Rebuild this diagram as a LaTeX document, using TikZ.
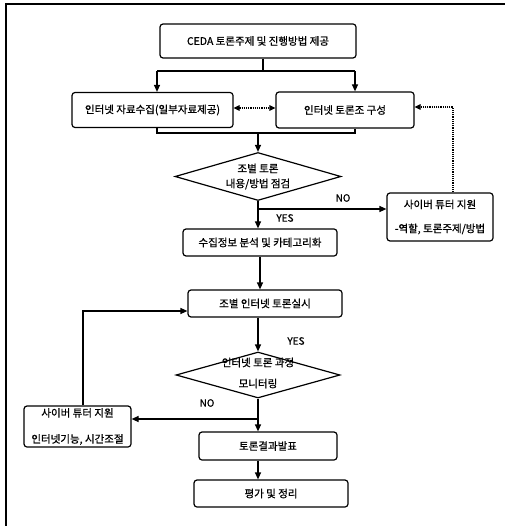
\documentclass[tikz,border=0pt]{standalone}
\usepackage{fontspec}
\setmainfont{Noto Sans CJK KR}[FakeBold=0.8]
\usetikzlibrary{arrows.meta,shapes.geometric}
\begin{document}
\begin{tikzpicture}[x=1pt,y=-1pt,
  font=\fontsize{10.5}{14}\selectfont,
  box/.style={draw,line width=1.2pt,rounded corners=3pt,inner sep=0pt,align=center},
  dia/.style={draw,line width=1.2pt,shape=diamond,inner sep=0pt,aspect=3.4},
  conn/.style={line width=1.2pt},
  arr/.style={conn,-{Triangle[length=7pt,width=6pt]}},
  dots/.style={line width=1.2pt,densely dotted},
  dtip/.style={{Triangle[length=6pt,width=5.5pt]}-{Triangle[length=6pt,width=5.5pt]}},
  lbl/.style={font=\fontsize{10}{12}\selectfont}
]
\useasboundingbox (0,0) rectangle (505,526);
\draw[line width=2pt] (6,526) -- (6,4) -- (505,4);

% nodes
\node[box,minimum width=196pt,minimum height=34pt] (b1) at (258,41) {CEDA 토론주제 및 진행방법 제공};
\node[box,minimum width=161pt,minimum height=35pt] (b2) at (152.5,110) {인터넷 자료수집(일부자료제공)};
\node[box,minimum width=138pt,minimum height=36pt] (b3) at (345,110) {인터넷 토론조 구성};
\node[dia,minimum width=166pt,minimum height=48pt] (d1) at (258,176.5) {};
\node[align=center,font=\fontsize{10.5}{15}\selectfont] (d1t) at (258,176.5) {조별 토론\\내용/방법 점검};
\node[box,minimum width=106pt,minimum height=48pt] (ct1) at (440,217) {사이버 튜터 지원\\[10pt]-역할, 토론주제/방법};
\node[box,minimum width=154pt,minimum height=27pt] (b4) at (260,242.5) {수집정보 분석 및 카테고리화};
\node[box,minimum width=154pt,minimum height=27pt] (b5) at (265,303.5) {조별 인터넷 토론실시};
\node[dia,minimum width=164pt,minimum height=46pt] (d2) at (258,375) {};
\node[align=center,font=\fontsize{10.5}{21}\selectfont] (d2t) at (258,373) {인터넷 토론 과정\\모니터링};
\node[box,minimum width=107pt,minimum height=41pt] (ct2) at (77.5,426.5) {사이버 튜터 지원\\[12pt]인터넷기능, 시간조절};
\node[box,minimum width=138pt,minimum height=28pt] (b6) at (268,446) {토론결과발표};
\node[box,minimum width=154pt,minimum height=27pt] (b7) at (271,493.5) {평가 및 정리};

% labels
\node[lbl] (yes1) at (285,218) {YES};
\node[lbl] (no1l) at (343,198) {NO};
\node[lbl] (yes2) at (296,341) {YES};
\node[lbl] (no2l) at (207,403) {NO};

% connectors
\coordinate (j1) at (263,71);
\coordinate (j1l) at (157,71);
\coordinate (j1r) at (355,71);
\draw[conn] (j1 |- b1.south) -- (j1);
\draw[conn] (j1l) -- (j1r);
\draw[arr] (j1l) -- (j1l |- b2.north);
\draw[arr] (j1r) -- (j1r |- b3.north);
\draw[dots,dtip] ([yshift=2pt]b2.east) -- ([yshift=2pt]b3.west);

\coordinate (j2l) at (157,133);
\coordinate (j2r) at (355,133);
\coordinate (j2) at (258,133);
\draw[conn] (j2l |- b2.south) -- (j2l) -- (j2r) -- (j2r |- b3.south);
\draw[arr] (j2) -- (d1.north);
\draw[arr] (d1.south) -- (d1.south |- b4.north);

\coordinate (no1) at (258,209);
\draw[arr] (no1) -- (no1 -| ct1.west);
\coordinate (ret1) at (453,107);
\draw[dots,-{Triangle[length=6pt,width=5.5pt]}] (ret1 |- ct1.north) -- (ret1) -- (ret1 -| b3.east);

\draw[arr] (b4.south) -- (b4.south |- b5.north);
\draw[arr] (d2.north |- b5.south) -- (d2.north);
\draw[arr] (d2.south) -- (d2.south |- b6.north);
\coordinate (no2) at (258,419);
\draw[arr] (no2) -- (no2 -| ct2.east);
\coordinate (ret2) at (83,311);
\draw[arr] (ret2 |- ct2.north) -- (ret2) -- (ret2 -| b5.west);
\draw[arr] (d2.south |- b6.south) -- (d2.south |- b7.north);
\end{tikzpicture}
\end{document}
